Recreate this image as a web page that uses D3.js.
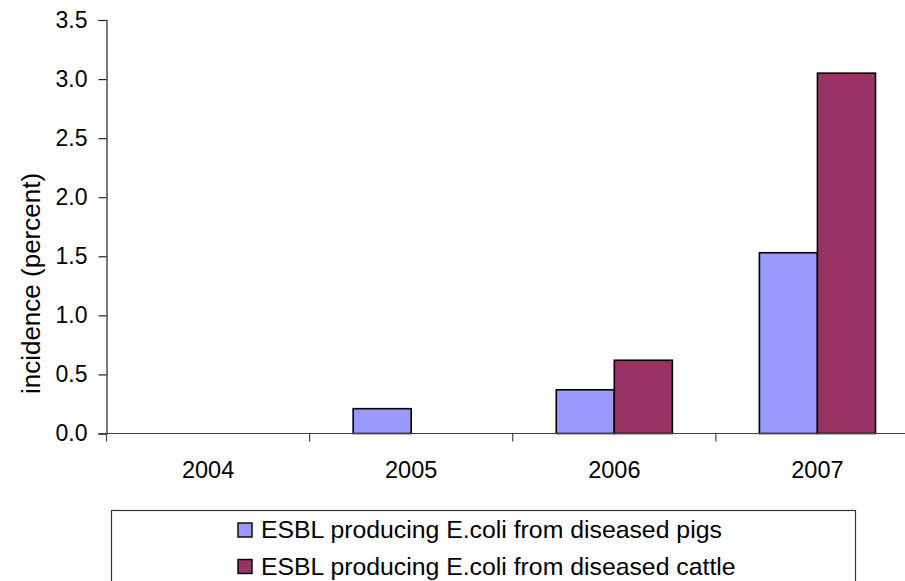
<!DOCTYPE html>
<html>
<head>
<meta charset="utf-8">
<script src="https://cdn.jsdelivr.net/npm/d3@7"></script>
<style>
  html, body { margin: 0; padding: 0; background: #fff; }
  svg { display: block; font-family: "Liberation Sans", Arial, sans-serif; }
</style>
</head>
<body>
<svg id="chart" width="905" height="581"></svg>
<script>
// Incidence of ESBL-producing E. coli, by year
const categories = ["2004", "2005", "2006", "2007"];
const pigValues = [0, 0.21, 0.37, 1.53];
const cattleValues = [0, 0, 0.62, 3.05];
const yTickValues = [0, 0.5, 1.0, 1.5, 2.0, 2.5, 3.0, 3.5];
const seriesNames = [
  "ESBL producing E.coli from diseased pigs",
  "ESBL producing E.coli from diseased cattle"
];
const seriesColors = ["#9999FF", "#993366"];

const svg = d3.select("#chart");

const plotLeft = 106.5, plotRight = 919, plotTop = 20, plotBottom = 433.5;

const x = d3.scaleBand().domain(categories).range([plotLeft, plotRight]).padding(0);
const y = d3.scaleLinear().domain([0, 3.5]).range([plotBottom, plotTop]);

const bw = x.bandwidth();
const barW = bw / 3.5;          // two bars plus a 150% gap
const offset = bw * 0.75 / 3.5;

// Bars
const series = [pigValues, cattleValues];
series.forEach((vals, si) => {
  const data = categories.map((c, i) => ({ c, v: vals[i] })).filter(d => d.v > 0);
  svg.append("g").selectAll("rect").data(data).join("rect")
    .attr("x", d => x(d.c) + offset + si * barW)
    .attr("y", d => y(d.v))
    .attr("width", barW)
    .attr("height", d => y(0) - y(d.v))
    .attr("fill", seriesColors[si])
    .attr("stroke", "#000")
    .attr("stroke-width", 1.6);
});

// Y axis
const yAxis = svg.append("g")
  .attr("transform", `translate(${plotLeft},0)`)
  .call(d3.axisLeft(y).tickValues(yTickValues).tickFormat(d3.format(".1f")).tickSize(8).tickPadding(11));
yAxis.select(".domain").attr("stroke", "#222").attr("stroke-width", 1.2);
yAxis.selectAll(".tick line").attr("stroke", "#222").attr("stroke-width", 1.2);
yAxis.selectAll(".tick text")
  .attr("font-size", 23).attr("fill", "#000")
  .attr("font-family", "Liberation Sans, Arial, sans-serif");

// X axis: baseline, boundary ticks, centred labels
const xg = svg.append("g");
xg.append("line")
  .attr("x1", plotLeft - 8).attr("x2", plotRight)
  .attr("y1", y(0)).attr("y2", y(0))
  .attr("stroke", "#444").attr("stroke-width", 1.2);
xg.selectAll("line.tick").data(categories.concat([null])).join("line")
  .attr("class", "tick")
  .attr("x1", (d, i) => plotLeft + i * bw).attr("x2", (d, i) => plotLeft + i * bw)
  .attr("y1", y(0)).attr("y2", y(0) + 8)
  .attr("stroke", "#444").attr("stroke-width", 1.2);
xg.selectAll("text").data(categories).join("text")
  .attr("x", d => x(d) + bw / 2)
  .attr("y", 478)
  .attr("text-anchor", "middle")
  .attr("font-size", 23.5)
  .text(d => d);

// Y axis title
svg.append("text")
  .attr("transform", "translate(39.5,283.5) rotate(-90)")
  .attr("text-anchor", "middle")
  .attr("font-size", 26)
  .text("incidence (percent)");

// Legend
const legend = svg.append("g");
legend.append("rect")
  .attr("x", 111.5).attr("y", 510.5)
  .attr("width", 744).attr("height", 90)
  .attr("fill", "#fff").attr("stroke", "#333").attr("stroke-width", 1.2);
seriesNames.forEach((name, i) => {
  const row = legend.append("g").attr("transform", `translate(0,${i * 36.5})`);
  row.append("rect")
    .attr("x", 238).attr("y", 523)
    .attr("width", 14).attr("height", 14)
    .attr("fill", seriesColors[i]).attr("stroke", "#000").attr("stroke-width", 1.4);
  row.append("text")
    .attr("x", 261).attr("y", 538)
    .attr("font-size", 24.8)
    .text(name);
});
</script>
</body>
</html>
